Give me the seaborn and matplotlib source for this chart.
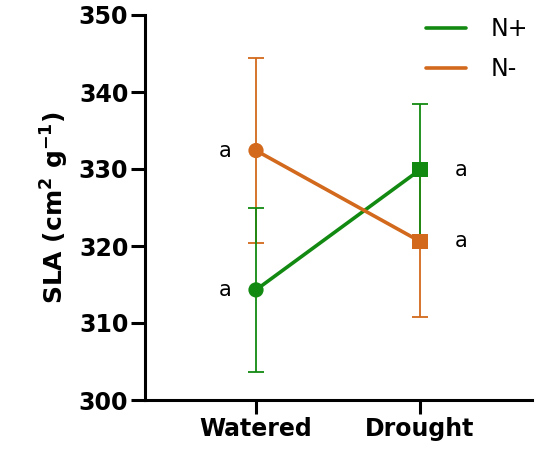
import matplotlib
matplotlib.use("Agg")
import matplotlib.pyplot as plt
import seaborn as sns
import pandas as pd
import numpy as np

conditions = ["Watered", "Drought"]
treatments = ["N+", "N-"]
means_nplus = [314.3, 329.9]
err_nplus = [10.7, 8.5]
means_nminus = [332.4, 320.6]
err_nminus = [12.0, 9.8]
letters_nplus = ["a", "a"]
letters_nminus = ["a", "a"]
colors = {"N+": "#128a12", "N-": "#d2691c"}

df = pd.DataFrame({
    "Condition": conditions * 2,
    "Treatment": ["N+"] * 2 + ["N-"] * 2,
    "SLA": means_nplus + means_nminus,
    "err": err_nplus + err_nminus,
})
df["x"] = df["Condition"].map({c: i for i, c in enumerate(conditions)})

sns.set_style("ticks")
plt.rcParams["font.family"] = ["DejaVu Sans"]
for k in ["text.color", "axes.labelcolor", "xtick.color", "ytick.color", "axes.edgecolor"]:
    plt.rcParams[k] = "black"

fig = plt.figure(figsize=(5.4, 4.55), dpi=100)
ax = fig.add_axes([145/540, 1-400/455, (532-145)/540, (400-15)/455])

for t in ["N-", "N+"]:
    sub = df[df["Treatment"] == t]
    ax.errorbar(sub["x"], sub["SLA"], yerr=sub["err"], fmt="none",
                ecolor=colors[t], elinewidth=1.3, capsize=5.5, capthick=1.3, zorder=2)

sns.lineplot(data=df, x="x", y="SLA", hue="Treatment", palette=colors,
             hue_order=treatments, linewidth=2.6, ax=ax, legend=True,
             sort=False, zorder=3)
sns.scatterplot(data=df, x="x", y="SLA", hue="Treatment", palette=colors,
                style="Condition", markers={"Watered": "o", "Drought": "s"},
                s=120, linewidth=0, ax=ax, legend=False, zorder=4)

for i in range(2):
    for means, letters in [(means_nplus, letters_nplus), (means_nminus, letters_nminus)]:
        off = -0.19 if i == 0 else 0.25
        ax.text(i + off, means[i], letters[i], ha="center", va="center", fontsize=15)

ax.set_xlim(-111/164, 1 + 112/164)
ax.set_ylim(300, 350)
ax.set_yticks(np.arange(300, 351, 10))
ax.set_xticks([0, 1])
ax.set_xticklabels(conditions, fontsize=17, fontweight="bold")
for lab in ax.get_yticklabels():
    lab.set_fontsize(17)
    lab.set_fontweight("bold")
ax.set_xlabel("")
ax.set_ylabel(r"SLA (cm$^\mathbf{2}$ g$^\mathbf{-1}$)", fontsize=18, fontweight="bold", labelpad=6)

sns.despine(ax=ax)
for sp in ["left", "bottom"]:
    ax.spines[sp].set_linewidth(2.2)
ax.tick_params(width=2.2, length=10, pad=2)

handles = ax.get_legend().legend_handles
leg = ax.legend(handles=handles, labels=treatments, loc="upper right",
                bbox_to_anchor=(1.045, 1.05), frameon=False, fontsize=17,
                handlelength=1.7, handletextpad=1.05, labelspacing=0.68)
for h in leg.get_lines():
    h.set_linewidth(2.6)

fig.savefig("out.png", dpi=100)
